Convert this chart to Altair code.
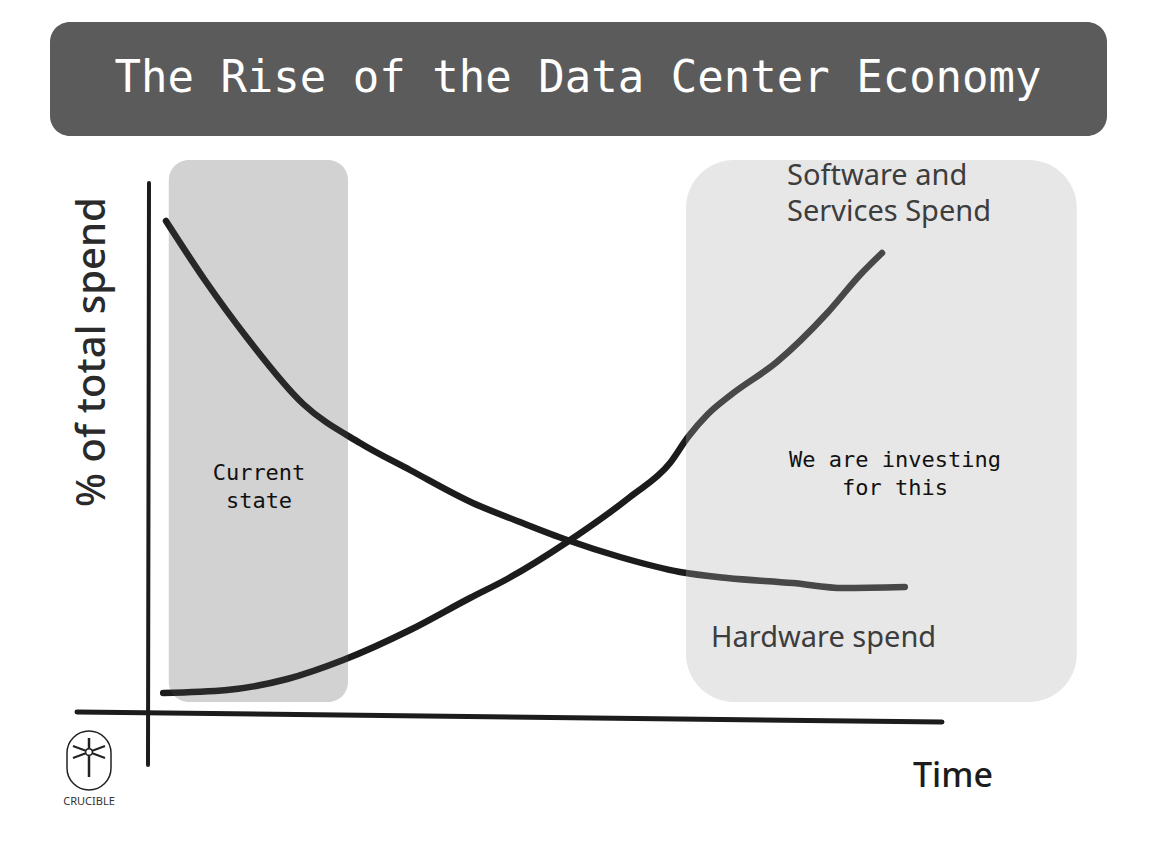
import altair as alt
import pandas as pd

# ---- data ----
time_hw = [2.25, 7.1, 12.4, 19.4, 26.5, 32.75, 40.6, 46.5, 52.4, 59.0, 66.5, 72.4, 80.6, 86.9, 94.6]
share_hw = [98.2, 86.4, 74.8, 61.6, 53.8, 48.4, 41.8, 38.0, 34.4, 31.0, 28.0, 26.8, 25.8, 24.8, 25.0]
time_sw = [1.9, 9.9, 17.4, 24.4, 32.75, 40.25, 44.9, 52.4, 60.25, 65.25, 67.5, 70.0, 73.0, 78.6, 84.9, 89.0, 91.75]
share_sw = [3.8, 4.4, 6.6, 10.4, 16.4, 22.8, 26.6, 34.0, 43.0, 49.8, 55.0, 59.6, 63.6, 70.0, 79.8, 87.4, 91.8]

series_names = ["Hardware spend", "Software and Services Spend"]

region_names = ["Current state", "We are investing for this"]
region_start = [2.6, 67.25]
region_end = [25.0, 116.1]
region_low = [2.0, 2.0]
region_high = [110.4, 110.4]

title_text = "The Rise of the Data Center Economy"

# ---- tables ----
lines_df = pd.concat([
    pd.DataFrame({"time": time_hw, "share": share_hw, "series": series_names[0]}),
    pd.DataFrame({"time": time_sw, "share": share_sw, "series": series_names[1]}),
])
regions_df = pd.DataFrame({"name": region_names, "x0": region_start, "x1": region_end,
                           "y0": region_low, "y1": region_high})

xs = alt.Scale(domain=[0, 100], nice=False, zero=False)
ys = alt.Scale(domain=[0, 100], nice=False, zero=False)

one = alt.Data(values=[{}])

HAND = "Noto Sans"
MONO = "DejaVu Sans Mono"
INK = "#1c1c1c"

lines = alt.Chart(lines_df).mark_line(
    interpolate="monotone", strokeWidth=6.5, strokeCap="round", strokeJoin="round"
).encode(
    x=alt.X("time:Q", scale=xs, axis=None),
    y=alt.Y("share:Q", scale=ys, axis=None),
    detail="series:N",
    color=alt.Color("series:N", scale=alt.Scale(domain=series_names, range=[INK, INK]), legend=None),
)

left_box = alt.Chart(regions_df.iloc[[0]]).mark_rect(
    cornerRadius=20, fill="#4d4d4d", opacity=0.25
).encode(
    x=alt.X("x0:Q", scale=xs, axis=None), x2="x1:Q",
    y=alt.Y("y0:Q", scale=ys, axis=None), y2="y1:Q",
)
right_box = alt.Chart(regions_df.iloc[[1]]).mark_rect(
    cornerRadius=48, fill="#aeaeae", opacity=0.3
).encode(
    x=alt.X("x0:Q", scale=xs, axis=None), x2="x1:Q",
    y=alt.Y("y0:Q", scale=ys, axis=None), y2="y1:Q",
)

# hand-drawn axes
v_axis = alt.Chart(one).mark_rule(color=INK, strokeWidth=4, strokeCap="round").encode(
    x=alt.value(1), x2=alt.value(0), y=alt.value(-29), y2=alt.value(553))
h_axis = alt.Chart(one).mark_rule(color=INK, strokeWidth=5, strokeCap="round").encode(
    x=alt.value(-71), x2=alt.value(794), y=alt.value(500), y2=alt.value(510))

# title banner
banner = alt.Chart(one).mark_rect(cornerRadius=20, fill="#5b5b5b").encode(
    x=alt.value(-98), x2=alt.value(959), y=alt.value(-190), y2=alt.value(-76))
title = alt.Chart(one).mark_text(
    text=title_text, font=MONO, fontSize=44, color="white", align="center", baseline="middle"
).encode(x=alt.value(430), y=alt.value(-133))

def txt(s, x, y, font, size, color, align="center", angle=0, lh=None, weight=None):
    kw = dict(text=s, font=font, fontSize=size, color=color, align=align, baseline="middle",
              lineBreak="\n")
    if angle:
        kw["angle"] = angle
    if lh:
        kw["lineHeight"] = lh
    if weight:
        kw["fontWeight"] = weight
    return alt.Chart(one).mark_text(**kw).encode(x=alt.value(x), y=alt.value(y))

labels = [
    txt("% of total spend", -55, 140, HAND, 40, "#2a2a2a", angle=270, weight=500),
    txt("Time", 805, 565, HAND, 34, "#1c1c1c", weight=500),
    txt("Software and\nServices Spend", 639, -36, HAND, 29, "#3d3d3d", align="left", lh=36),
    txt("Hardware spend", 563, 426, HAND, 29, "#3d3d3d", align="left"),
    txt("Current\nstate", 111, 261, MONO, 22, "#111111", lh=28),
    txt("We are investing\nfor this", 747, 248, MONO, 22, "#111111", lh=28),
]

# logo
logo_oval = alt.Chart(one).mark_rect(cornerRadius=22, filled=False, stroke="#222222", strokeWidth=1.5).encode(
    x=alt.value(-81), x2=alt.value(-37), y=alt.value(519), y2=alt.value(578))
logo_bar = alt.Chart(one).mark_rule(color="#222222", strokeWidth=2.5).encode(
    x=alt.value(-59), y=alt.value(526), y2=alt.value(565))
logo_s1 = alt.Chart(one).mark_rule(color="#222222", strokeWidth=2).encode(
    x=alt.value(-75), x2=alt.value(-43), y=alt.value(534), y2=alt.value(546))
logo_s2 = alt.Chart(one).mark_rule(color="#222222", strokeWidth=2).encode(
    x=alt.value(-75), x2=alt.value(-43), y=alt.value(546), y2=alt.value(534))
logo_eye = alt.Chart(one).mark_point(shape="circle", size=45, filled=True, fill="white",
                                     stroke="#222222", strokeWidth=1.5, opacity=1).encode(
    x=alt.value(-59), y=alt.value(540))
logo_text = txt("CRUCIBLE", -59, 590, HAND, 11, "#333333")

chart = alt.layer(
    banner, title, lines, left_box, right_box, v_axis, h_axis, *labels,
    logo_oval, logo_bar, logo_s1, logo_s2, logo_eye, logo_text,
).properties(
    width=800, height=500,
    padding={"left": 140, "top": 204, "right": 204, "bottom": 118},
    autosize=alt.AutoSizeParams(type="none"),
    background="white",
).configure_view(stroke=None)

chart.save("out.html", embed_options={"renderer": "svg", "actions": False})
